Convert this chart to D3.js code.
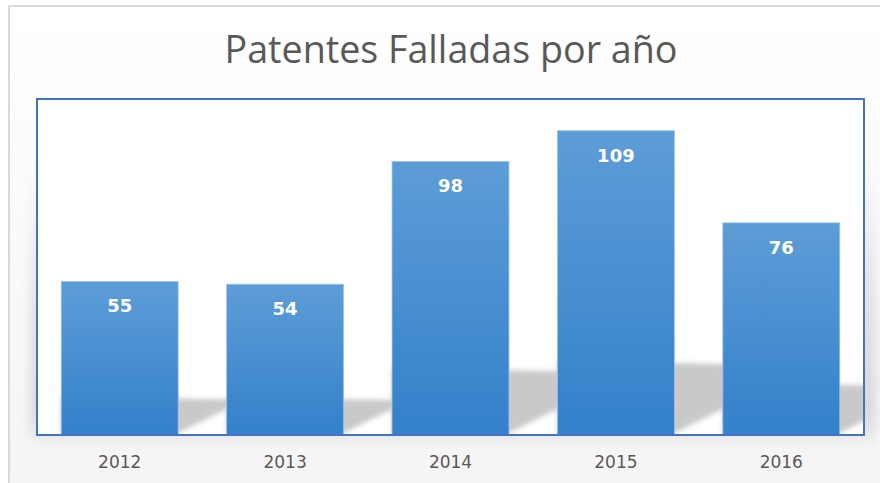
<!DOCTYPE html>
<html><head><meta charset="utf-8">
<script src="https://cdn.jsdelivr.net/npm/d3@7"></script>
<style>body{margin:0;background:#fff}svg{display:block}</style>
</head><body><svg id="c" width="880" height="483"></svg>
<script>
const categories = ["2012", "2013", "2014", "2015", "2016"];
const values = [55, 54, 98, 109, 76];
const chartTitle = "Patentes Falladas por año";

const svg = d3.select("#c");
const plot = {left: 37, top: 99, right: 864, bottom: 435};

const defs = svg.append("defs");
const bg = defs.append("linearGradient").attr("id", "bg").attr("x1", 0).attr("y1", 0).attr("x2", 0).attr("y2", 1);
bg.append("stop").attr("offset", 0).attr("stop-color", "#ffffff");
bg.append("stop").attr("offset", 1).attr("stop-color", "#f4f4f4");

const bar = defs.append("linearGradient").attr("id", "bar").attr("x1", 0).attr("y1", 0).attr("x2", 0).attr("y2", 1);
bar.append("stop").attr("offset", 0).attr("stop-color", "#5d9dd7");
bar.append("stop").attr("offset", 1).attr("stop-color", "#3480cb");

const psh = defs.append("linearGradient").attr("id", "psh").attr("x1", 0).attr("y1", 0).attr("x2", 0).attr("y2", 1);
psh.append("stop").attr("offset", 0).attr("stop-color", "#000").attr("stop-opacity", 0);
psh.append("stop").attr("offset", 0.55).attr("stop-color", "#000").attr("stop-opacity", 0.1);
psh.append("stop").attr("offset", 0.9).attr("stop-color", "#000").attr("stop-opacity", 0.12);
psh.append("stop").attr("offset", 1).attr("stop-color", "#000").attr("stop-opacity", 0.03);

const blur = defs.append("filter").attr("id", "blur").attr("x", -0.3).attr("y", -0.3).attr("width", 1.6).attr("height", 1.6);
blur.append("feGaussianBlur").attr("stdDeviation", 2.5);
const blur2 = defs.append("filter").attr("id", "blur2").attr("x", -0.1).attr("y", -0.1).attr("width", 1.2).attr("height", 1.2);
blur2.append("feGaussianBlur").attr("stdDeviation", 5);

defs.append("clipPath").attr("id", "pc").append("rect")
  .attr("x", plot.left + 1).attr("y", plot.top + 1)
  .attr("width", plot.right - plot.left - 2).attr("height", plot.bottom - plot.top - 2);

// chart area
svg.append("rect").attr("x", 9).attr("y", 6).attr("width", 900).attr("height", 500)
  .attr("fill", "url(#bg)").attr("stroke", "#d9d9d9").attr("stroke-width", 2);

// title
svg.append("text").attr("x", 451).attr("y", 63).attr("text-anchor", "middle")
  .attr("font-family", "'Open Sans', 'Noto Sans', sans-serif")
  .attr("font-size", 39).attr("fill", "#595959")
  .attr("textLength", 453).attr("lengthAdjust", "spacingAndGlyphs")
  .text(chartTitle);

// plot area shadow
svg.append("rect").attr("x", 30).attr("y", 160).attr("width", 846).attr("height", 282)
  .attr("fill", "url(#psh)").attr("filter", "url(#blur2)");

// plot area
svg.append("rect").attr("x", plot.left).attr("y", plot.top)
  .attr("width", plot.right - plot.left).attr("height", plot.bottom - plot.top)
  .attr("fill", "#ffffff");

const x = d3.scaleBand().domain(categories).range([plot.left, plot.right])
  .paddingInner(0.293).paddingOuter(0.1465);
const y = d3.scaleLinear().domain([0, 120]).range([plot.bottom, 100]);

const data = categories.map((c, i) => ({c, v: values[i]}));
const base = y(0);
const ext = x.step() * 0.42;

// bar shadows
svg.append("g").attr("clip-path", "url(#pc)").selectAll("polygon").data(data).join("polygon")
  .attr("points", d => {
    const x0 = x(d.c), x1 = x0 + x.bandwidth(), h = base - y(d.v);
    return [
      [x0, base - 0.245 * h],
      [x1 + ext, base - 0.232 * h],
      [x1 + ext, base - 5 - ext * 0.45],
      [x1, base - 2],
      [x0, base - 2]
    ].map(p => p.join(",")).join(" ");
  })
  .attr("fill", "#c9c9c9").attr("filter", "url(#blur)");

// bars
svg.append("g").selectAll("rect").data(data).join("rect")
  .attr("x", d => x(d.c)).attr("y", d => y(d.v))
  .attr("width", x.bandwidth()).attr("height", d => base - y(d.v))
  .attr("fill", "url(#bar)").attr("stroke", "#9cc3e8").attr("stroke-width", 0.8);

// labels
svg.append("g").selectAll("text").data(data).join("text")
  .attr("x", d => x(d.c) + x.bandwidth() / 2).attr("y", d => y(d.v) + 31)
  .attr("text-anchor", "middle").attr("font-family", "'DejaVu Sans', sans-serif")
  .attr("font-weight", "bold").attr("font-size", 18).attr("fill", "#ffffff")
  .text(d => d.v);

// plot border
svg.append("rect").attr("x", plot.left).attr("y", plot.top)
  .attr("width", plot.right - plot.left).attr("height", plot.bottom - plot.top)
  .attr("fill", "none").attr("stroke", "#4472c4").attr("stroke-width", 2);

// x axis
const ax = svg.append("g").attr("transform", `translate(0,${plot.bottom})`)
  .call(d3.axisBottom(x).tickSize(0).tickPadding(21));
ax.select(".domain").remove();
ax.selectAll("text").attr("font-family", "'DejaVu Sans', sans-serif")
  .attr("font-size", 17).attr("fill", "#595959");
</script></body></html>
